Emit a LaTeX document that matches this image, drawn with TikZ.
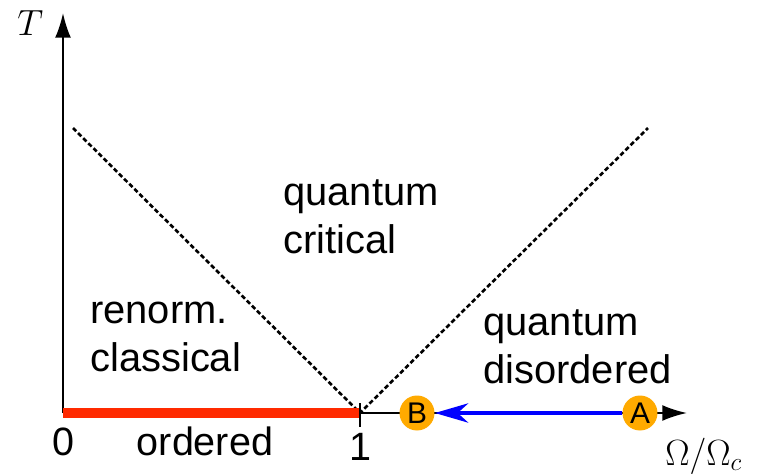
\documentclass[tikz,border=0pt]{standalone}
\usepackage{fontspec}
\setmainfont{Liberation Sans}
\usetikzlibrary{arrows.meta, positioning}
\definecolor{ordline}{HTML}{FF2A00}
\definecolor{ptfill}{HTML}{FFAA00}
\tikzset{
  axisline/.style={line width=1.1pt, -{Latex[length=14pt,width=9pt]}},
  regionlbl/.style={font=\fontsize{22.7}{27}\selectfont, align=left, anchor=base west},
  ticklbl/.style={font=\fontsize{22.5}{26}\selectfont, anchor=base},
  mathlbl/.style={font=\fontsize{19.5}{23}\selectfont, anchor=base west},
  ptnode/.style={circle, fill=ptfill, minimum size=0.7cm, inner sep=0pt, font=\fontsize{17}{19}\selectfont},
}

\begin{document}
\begin{tikzpicture}[x=0.02cm, y=-0.02cm, every node/.style={inner sep=0pt}]
\useasboundingbox (0,0) rectangle (769,474);
\coordinate (O) at (63,413);
\coordinate (Ttip) at (63,13);
\coordinate (Xtip) at (687,413);
\coordinate (crit) at (360,413);
\coordinate (redend) at (359,413);
\coordinate (lft) at (73,128);
\coordinate (rgt) at (648,128);
% crossover lines
\draw[line width=1.5pt, dash pattern=on 2.6pt off 1.5pt] (lft) -- (crit) -- (rgt);
% axes
\draw[axisline] (O) -- (Ttip);
\draw[axisline] (O) -- (Xtip);
\draw[ordline, line width=5.6pt] (O) -- (redend);
\draw[line width=1.2pt] (crit) ++(0,-10) -- ++(0,24);
% flow from A to B
\node[ptnode] (B) at (417,413) {B};
\node[ptnode] (A) at (640,413) {A};
\draw[blue, line width=2pt, -{Stealth[length=19pt,width=11pt,inset=6pt]}] (A) -- (B);
% labels
\node[mathlbl] (Tlab) at (17,35) {$T$};
\node[mathlbl] (xlab) at (665,465) {$\Omega/\Omega_c$};
\node[ticklbl] (zero) at (63,455) {0};
\node[ticklbl] (one) at (360,460) {1};
\node[ticklbl] (ord) at (205,455) {ordered};
\node[regionlbl] (qc) at (283,253) {quantum\\critical};
\node[regionlbl] (rc) at (90,371) {renorm.\\classical};
\node[regionlbl] (qd) at (483,383) {quantum\\disordered};
\end{tikzpicture}
\end{document}
